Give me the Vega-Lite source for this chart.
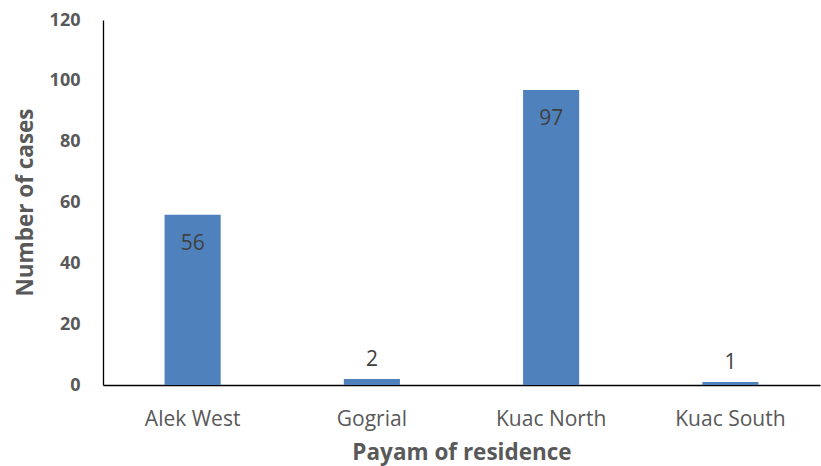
{
  "$schema": "https://vega.github.io/schema/vega-lite/v6.json",
  "width": 717,
  "height": 365,
  "autosize": {"type": "none"},
  "padding": {"left": 103, "top": 20, "right": 1, "bottom": 81},
  "background": "#ffffff",
  "config": {
    "view": {"stroke": null},
    "font": "Open Sans"
  },
  "data": {
    "values": [
      {"payam": "Alek West", "cases": 56},
      {"payam": "Gogrial", "cases": 2},
      {"payam": "Kuac North", "cases": 97},
      {"payam": "Kuac South", "cases": 1}
    ]
  },
  "encoding": {
    "x": {
      "field": "payam",
      "type": "nominal",
      "sort": null,
      "scale": {"paddingInner": 0.687, "paddingOuter": 0.3435},
      "axis": {
        "title": "Payam of residence",
        "labelAngle": 0,
        "labelFont": "Open Sans",
        "labelFontSize": 21,
        "labelColor": "#595959",
        "labelPadding": 23,
        "ticks": false,
        "domainColor": "#000000",
        "domainWidth": 1.3,
        "grid": false,
        "titleFont": "Open Sans",
        "titleFontSize": 22.5,
        "titleFontWeight": "bold",
        "titleColor": "#595959",
        "titleBaseline": "alphabetic",
        "titleY": 74
      }
    },
    "y": {
      "field": "cases",
      "type": "quantitative",
      "scale": {"domain": [0, 120], "nice": false},
      "axis": {
        "title": "Number of cases",
        "values": [0, 20, 40, 60, 80, 100, 120],
        "labelFont": "Open Sans",
        "labelFontSize": 18,
        "labelFontWeight": "bold",
        "labelColor": "#595959",
        "labelPadding": 23,
        "ticks": false,
        "grid": false,
        "domainColor": "#000000",
        "domainWidth": 1.3,
        "titleFont": "Open Sans",
        "titleFontSize": 22.5,
        "titleFontWeight": "bold",
        "titleColor": "#595959",
        "titleAngle": -90,
        "titleBaseline": "alphabetic",
        "titleAlign": "center",
        "titleX": -71,
        "titleY": 182
      }
    }
  },
  "layer": [
    {"mark": {"type": "bar", "color": "#4F81BD"}},
    {
      "transform": [{"filter": "datum.cases >= 10"}],
      "mark": {"type": "text", "baseline": "alphabetic", "dy": 35, "fontSize": 21, "color": "#404040", "font": "Open Sans"},
      "encoding": {"text": {"field": "cases", "type": "quantitative"}}
    },
    {
      "transform": [{"filter": "datum.cases < 10"}],
      "mark": {"type": "text", "baseline": "alphabetic", "dy": -13, "fontSize": 21, "color": "#404040", "font": "Open Sans"},
      "encoding": {"text": {"field": "cases", "type": "quantitative"}}
    }
  ]
}
